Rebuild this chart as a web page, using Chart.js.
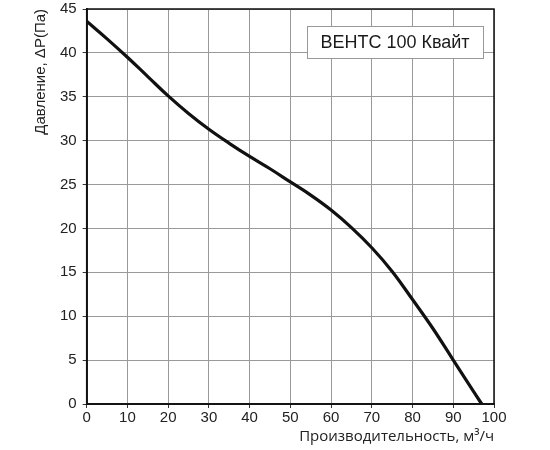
<!DOCTYPE html>
<html>
<head>
<meta charset="utf-8">
<script src="https://cdn.jsdelivr.net/npm/chart.js@4/dist/chart.umd.min.js"></script>
<style>
  html, body { margin: 0; padding: 0; background: #fff; overflow: hidden; }
  #wrap { width: 550px; height: 456px; margin-top: -6px; }
</style>
</head>
<body>
<div id="wrap"><canvas id="chartPQ"></canvas></div>
<script>
// Производительность, м³/ч
const flowValues = [0, 5, 10, 15, 20, 25, 30, 35, 40, 45, 50, 55, 60, 65, 70, 75, 80, 85, 90, 95, 97];
// Давление, Па
const pressureValues = [43.6, 41.6, 39.5, 37.3, 35.1, 33.1, 31.3, 29.7, 28.2, 26.8, 25.3, 23.8, 22.1, 20.1, 17.8, 15.1, 11.9, 8.6, 5.0, 1.4, 0];
const seriesName = 'ВЕНТС 100 Квайт';
const xTicks = [0, 10, 20, 30, 40, 50, 60, 70, 80, 90, 100];
const yTicks = [0, 5, 10, 15, 20, 25, 30, 35, 40, 45];

// рамка вокруг области графика + подпись модели в углу
const frameAndLabel = {
    id: 'frameAndLabel',
    afterDraw: (chart) => {
        const { ctx, chartArea: a } = chart;
        ctx.save();
        ctx.strokeStyle = '#111';
        ctx.lineWidth = 1.5;
        ctx.strokeRect(a.left, a.top, a.right - a.left, a.bottom - a.top);

        // коробка с названием
        const bx = a.right - 187, by = a.top + 17, bw = 176, bh = 32;
        ctx.fillStyle = '#fff';
        ctx.fillRect(bx, by, bw, bh);
        ctx.strokeStyle = '#999';
        ctx.lineWidth = 1;
        ctx.strokeRect(bx + 0.5, by + 0.5, bw, bh);
        ctx.fillStyle = '#1a1a1a';
        ctx.font = '18px "Liberation Sans", Arial, sans-serif';
        ctx.textAlign = 'center';
        ctx.textBaseline = 'middle';
        ctx.fillText(chart.data.datasets[0].label, bx + bw / 2, by + bh / 2 + 1);
        ctx.restore();
    }
};

const PQChart = {
    init: () => {
        const points = flowValues.map((q, i) => ({ x: q, y: pressureValues[i] }));
        new Chart(document.getElementById('chartPQ'), {
            type: 'line',
            data: {
                datasets: [{
                    label: seriesName,
                    data: points,
                    borderColor: '#111',
                    borderWidth: 3.2,
                    pointRadius: 0,
                    tension: 0.4,
                    fill: false
                }]
            },
            options: {
                responsive: true,
                maintainAspectRatio: false,
                animation: false,
                layout: { padding: { left: 32, right: 56, top: 0, bottom: 4 } },
                plugins: { legend: { display: false }, tooltip: { enabled: false } },
                scales: {
                    x: {
                        type: 'linear',
                        min: 0, max: 100,
                        afterBuildTicks: (s) => { s.ticks = xTicks.map(v => ({ value: v })); },
                        ticks: { color: '#222', font: { family: '"Liberation Sans", Arial', size: 15 }, padding: 1, maxRotation: 0 },
                        grid: { color: '#999', lineWidth: 1, tickLength: 4, tickColor: '#333' },
                        border: { color: '#222', width: 2 },
                        title: {
                            display: true,
                            text: 'Производительность, м³/ч',
                            align: 'end',
                            color: '#222',
                            font: { family: '"Open Sans", sans-serif', size: 15 },
                            padding: { top: 0, bottom: 0 }
                        }
                    },
                    y: {
                        type: 'linear',
                        min: 0, max: 45,
                        afterBuildTicks: (s) => { s.ticks = yTicks.map(v => ({ value: v })); },
                        ticks: { color: '#222', font: { family: '"Liberation Sans", Arial', size: 15 }, padding: 6 },
                        grid: { color: '#999', lineWidth: 1, tickLength: 4, tickColor: '#333' },
                        border: { color: '#222', width: 2 },
                        title: {
                            display: true,
                            text: 'Давление, ΔP(Па)',
                            align: 'end',
                            color: '#222',
                            font: { family: '"Liberation Sans", Arial', size: 15 },
                            padding: { top: 0, bottom: 4 }
                        }
                    }
                }
            },
            plugins: [frameAndLabel]
        });
    }
};

document.addEventListener('DOMContentLoaded', PQChart.init);
</script>
</body>
</html>
